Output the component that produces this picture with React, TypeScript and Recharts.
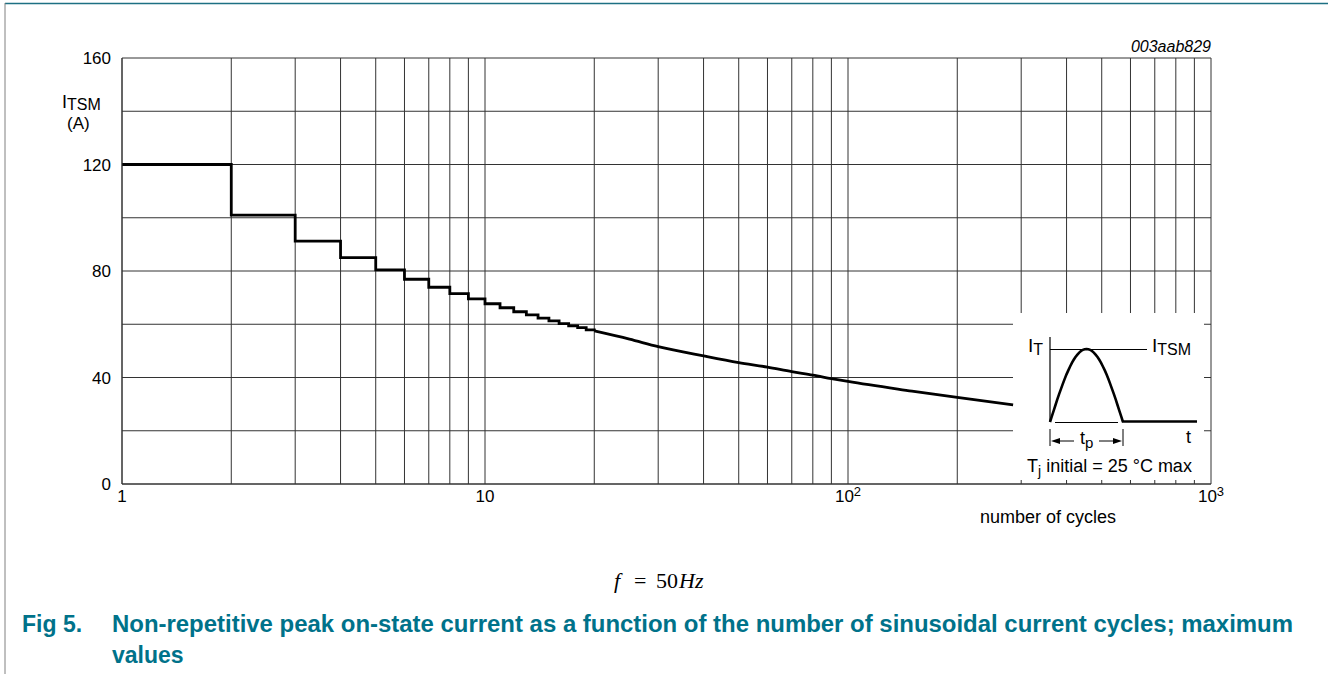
import { CartesianGrid, Customized, Line, LineChart, XAxis, YAxis } from "recharts";

// step part: one level per whole number of cycles
const stepCycles = [1, 2, 3, 4, 5, 6, 7, 8, 9, 10, 11, 12, 13, 14, 15, 16, 17, 18, 19, 20];
const stepCurrent = [120, 101, 91.2, 85, 80.4, 76.9, 73.9, 71.5, 69.5, 67.7, 66.2, 64.7, 63.5, 62.3, 61.3, 60.2, 59.4, 58.7, 57.9, 57.5];

// smooth part from 20 cycles on, visible up to the inset (~285 cycles)
const curveCycles = [20, 25, 30, 40, 50, 60, 70, 80, 90, 100, 150, 200, 285];
const curveCurrent = [57.5, 54.4, 51.6, 48.1, 45.6, 43.9, 42.2, 40.9, 39.6, 38.5, 34.9, 32.5, 29.7];

const xTicks = [1, 10, 100, 1000];
const yTicks = [0, 40, 80, 120, 160];
const gridX = [1, 2, 3, 4, 5, 6, 7, 8, 9, 10, 20, 30, 40, 50, 60, 70, 80, 90, 100, 200, 300, 400, 500, 600, 700, 800, 900, 1000];
const gridY = [0, 20, 40, 60, 80, 100, 120, 140, 160];

const stepData = stepCycles.map((n, i) => ({ n, i: stepCurrent[i] }));
const curveData = curveCycles.map((n, i) => ({ n, i: curveCurrent[i] }));

const FONT = "'Liberation Sans', Arial, Helvetica, sans-serif";
const TEAL = "#00728a";

const XTick = (props: any) => {
  const { x, y, payload } = props;
  const v = payload.value as number;
  const exp = Math.round(Math.log10(v));
  return (
    <text x={x} y={y + 18} textAnchor="middle" fontSize={17} fill="#000" fontFamily={FONT}>
      {exp < 2 ? (
        String(v)
      ) : (
        <>
          <tspan>10</tspan>
          <tspan fontSize={13} dy={-6}>
            {exp}
          </tspan>
        </>
      )}
    </text>
  );
};

// half-sine sketch in the inset
const arcPath = () => {
  const x0 = 1050;
  const x1 = 1123;
  const yb = 422;
  const h = 73;
  let d = "";
  for (let k = 0; k <= 40; k++) {
    const t = k / 40;
    const px = x0 + (x1 - x0) * t;
    const py = yb - h * Math.sin(Math.PI * t);
    d += (k === 0 ? "M" : "L") + px.toFixed(1) + "," + py.toFixed(1);
  }
  return d;
};

const Decor = () => (
  <g fontFamily={FONT}>
    {/* page frame */}
    <line x1={5} y1={3.5} x2={1328} y2={3.5} stroke="#1d7083" strokeWidth={1.5} />
    <line x1={5} y1={3} x2={5} y2={674} stroke="#808080" strokeWidth={1} />

    {/* y axis label */}
    <text x={62} y={108} fontSize={18} fill="#000">
      I<tspan fontSize={16} dy={2}>TSM</tspan>
    </text>
    <text x={67} y={129} fontSize={17} fill="#000">
      (A)
    </text>

    <text x={1211} y={52} fontSize={16} fontStyle="italic" textAnchor="end" fill="#000">
      003aab829
    </text>
    <text x={980} y={523} fontSize={18} fill="#000">
      number of cycles
    </text>

    {/* inset */}
    <rect x={1013} y={313} width={191} height={167} fill="#fff" />
    <line x1={1050} y1={337} x2={1050} y2={422} stroke="#000" strokeWidth={1.2} />
    <line x1={1050} y1={349.5} x2={1147} y2={349.5} stroke="#000" strokeWidth={1} />
    <path d={arcPath()} fill="none" stroke="#000" strokeWidth={2.6} />
    <line x1={1055} y1={422.5} x2={1118} y2={422.5} stroke="#000" strokeWidth={1} />
    <line x1={1122} y1={421.5} x2={1197} y2={421.5} stroke="#000" strokeWidth={2.6} />
    <text x={1028} y={352} fontSize={19} fill="#000">
      I<tspan fontSize={16} dy={3}>T</tspan>
    </text>
    <text x={1152} y={352} fontSize={19} fill="#000">
      I<tspan fontSize={16} dy={3}>TSM</tspan>
    </text>
    <text x={1186} y={443} fontSize={18} fill="#000">
      t
    </text>
    <line x1={1050} y1={429} x2={1050} y2={446} stroke="#000" strokeWidth={1} />
    <line x1={1123} y1={429} x2={1123} y2={446} stroke="#000" strokeWidth={1} />
    <line x1={1058} y1={441} x2={1074} y2={441} stroke="#000" strokeWidth={1} />
    <path d="M1051,441 L1060,438 L1060,444 Z" fill="#000" />
    <line x1={1099} y1={441} x2={1115} y2={441} stroke="#000" strokeWidth={1} />
    <path d="M1122,441 L1113,438 L1113,444 Z" fill="#000" />
    <text x={1080} y={444} fontSize={18} fill="#000">
      t<tspan fontSize={15} dy={4}>p</tspan>
    </text>
    <text x={1027} y={472} fontSize={18} fill="#000">
      T<tspan fontSize={14} dy={4}>j</tspan>
      <tspan dy={-4}> initial = 25 °C max</tspan>
    </text>

    {/* f = 50Hz */}
    <g fontFamily="'Liberation Serif', 'Times New Roman', serif" fontSize={22} fill="#000">
      <text x={614} y={588} fontStyle="italic">f</text>
      <text x={634} y={588}>=</text>
      <text x={656} y={588}>50</text>
      <text x={679} y={588} fontStyle="italic">Hz</text>
    </g>

    {/* caption */}
    <g fontSize={23} fontWeight="bold" fill={TEAL}>
      <text x={22} y={632}>Fig 5.</text>
      <text x={112} y={632} textLength={1181} lengthAdjust="spacingAndGlyphs">
        Non-repetitive peak on-state current as a function of the number of sinusoidal current cycles; maximum
      </text>
      <text x={112} y={663}>values</text>
    </g>
  </g>
);

export default function App() {
  return (
    <div style={{ position: "absolute", left: 0, top: 0, width: 1328, height: 674, background: "#fff" }}>
      <LineChart
        width={1328}
        height={674}
        margin={{ top: 58, right: 117, bottom: 160, left: 62 }}
        style={{ fontFamily: FONT }}
      >
        <CartesianGrid stroke="#333" strokeWidth={1} horizontalValues={gridY} verticalValues={gridX} />
        <XAxis
          type="number"
          dataKey="n"
          scale="log"
          domain={[1, 1000]}
          ticks={xTicks}
          allowDataOverflow
          axisLine={{ stroke: "#333" }}
          tickLine={false}
          tickSize={0}
          tickMargin={0}
          height={30}
          tick={<XTick />}
          interval={0}
        />
        <YAxis
          type="number"
          domain={[0, 160]}
          ticks={yTicks}
          axisLine={{ stroke: "#333" }}
          tickLine={false}
          tickSize={0}
          tickMargin={11}
          width={60}
          interval={0}
          tick={{ fill: "#000", fontSize: 17, fontFamily: FONT }}
        />
        <Line
          data={stepData}
          dataKey="i"
          type="stepAfter"
          stroke="#000"
          strokeWidth={2.8}
          dot={false}
          activeDot={false}
          isAnimationActive={false}
        />
        <Line
          data={curveData}
          dataKey="i"
          type="monotone"
          stroke="#000"
          strokeWidth={2.8}
          dot={false}
          activeDot={false}
          isAnimationActive={false}
        />
        <Customized component={Decor} />
      </LineChart>
    </div>
  );
}
